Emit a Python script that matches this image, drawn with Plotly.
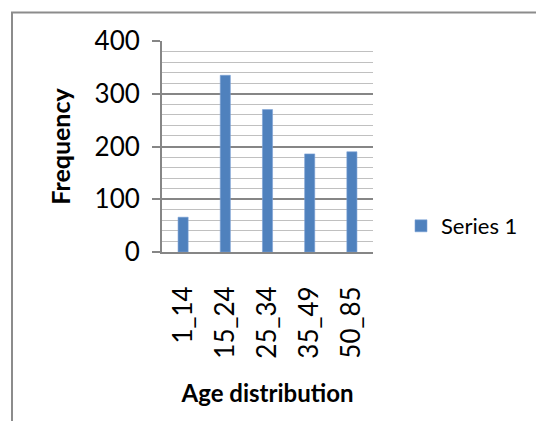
import plotly.graph_objects as go

categories = ["1_14", "15_24", "25_34", "35_49", "50_85"]
frequency = [66, 335, 270, 186, 190]
series_name = "Series 1"
y_ticks = [0, 100, 200, 300, 400]

W, H = 536, 421
ml, mr, mt, mb = 162, 163, 41, 169
pw, ph = W - ml - mr, H - mt - mb

fig = go.Figure()
fig.add_trace(go.Bar(
    x=categories, y=frequency, name=series_name,
    marker=dict(color="#4f81bd", line=dict(color="#7ea3d6", width=0.6)),
    showlegend=True,
))

font_family = "Lato, 'Open Sans', sans-serif"

fig.update_layout(
    width=W, height=H,
    margin=dict(l=ml, r=mr, t=mt, b=mb, pad=0, autoexpand=False),
    paper_bgcolor="white", plot_bgcolor="white",
    bargap=0.76,
    font=dict(family=font_family, color="#000000"),
    showlegend=True,
    legend=dict(
        x=(401 - ml) / pw, y=(H - mb - 226) / ph, xanchor="left", yanchor="middle",
        font=dict(size=22, family=font_family, color="#000"),
        bgcolor="rgba(0,0,0,0)", itemwidth=30,
    ),
    xaxis=dict(
        type="category", automargin=False,
        showline=True, linecolor="#868686", linewidth=2,
        ticks="", tickangle=-90,
        tickfont=dict(size=26, family=font_family),
        ticklabelstandoff=22,
        showgrid=False,
        title=dict(text="<b>Age distribution</b>", font=dict(size=24, family=font_family), standoff=28),
    ),
    yaxis=dict(
        range=[0, 400], tickvals=y_ticks, automargin=False,
        showline=True, linecolor="#868686", linewidth=2,
        ticks="outside", ticklen=8, tickcolor="#868686", tickwidth=2,
        tickfont=dict(size=26, family=font_family),
        ticklabelstandoff=7,
        showgrid=True, gridcolor="#868686", gridwidth=1.5,
        minor=dict(dtick=20, showgrid=True, gridcolor="#c0c0c0", gridwidth=1.2, ticks=""),
        zeroline=False,
        title=dict(text="<b>Frequency</b>", font=dict(size=25, family=font_family), standoff=17),
    ),
)

# outer chart frame (top and left visible in reference)
fig.add_shape(
    type="rect", xref="paper", yref="paper", layer="below",
    x0=(12 - ml) / pw, x1=(W + 20 - ml) / pw,
    y0=(H - mb - (H + 20)) / ph, y1=(H - mb - 12.5) / ph,
    line=dict(color="#8c8c8c", width=2), fillcolor="rgba(0,0,0,0)",
)

fig.write_html("out.html", config={"displayModeBar": False},
               post_script="document.body.style.margin='0px';")
